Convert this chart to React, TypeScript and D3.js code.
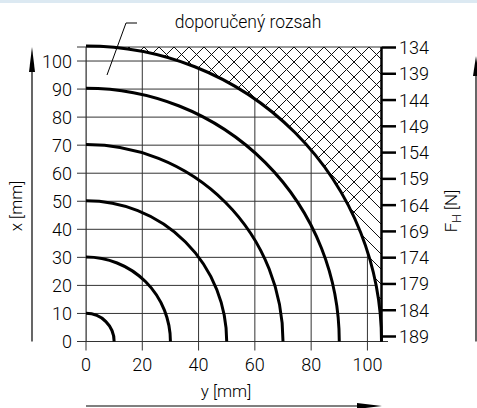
import React from "react";
import * as d3 from "d3";

const radii = [10, 30, 50, 70, 90];
const boundary = 105;
const xTicks = [0, 20, 40, 60, 80, 100];
const yTicks = [0, 10, 20, 30, 40, 50, 60, 70, 80, 90, 100];
const fhTicks = [134, 139, 144, 149, 154, 159, 164, 169, 174, 179, 184, 189];
const titleText = "doporučený rozsah";

const W = 477;
const H = 408;
const FONT = "Roboto, 'DejaVu Sans', sans-serif";

export default function App() {
  const x = d3.scaleLinear().domain([0, boundary]).range([86, 381.5]);
  const y = d3.scaleLinear().domain([0, boundary]).range([341.5, 47]);
  const fh = d3.scaleLinear().domain([134, 189]).range([47.5, 336.5]);

  const cx = x(0);
  const cy = y(0);
  const R = (r: number) => x(r) - x(0);

  const arcPath = (r: number) => {
    const p = d3.path();
    p.moveTo(cx, cy - R(r));
    p.arc(cx, cy, R(r), -Math.PI / 2, 0, false);
    return p.toString();
  };

  const gridClip = (() => {
    const p = d3.path();
    p.moveTo(cx, cy);
    p.lineTo(cx, cy - R(boundary));
    p.arc(cx, cy, R(boundary), -Math.PI / 2, 0, false);
    p.closePath();
    return p.toString();
  })();

  const hatchClip = (() => {
    const p = d3.path();
    p.moveTo(x(0), y(boundary));
    p.lineTo(x(boundary), y(boundary));
    p.lineTo(x(boundary), y(0));
    p.arc(cx, cy, R(boundary), 0, -Math.PI / 2, true);
    p.closePath();
    return p.toString();
  })();

  const hatchLines: string[] = [];
  const step = 15;
  const x0 = 144;
  const top = y(boundary);
  const span = 320;
  for (let k = -25; k <= 25; k++) {
    const xa = x0 + k * step;
    hatchLines.push(`M${xa},${top}L${xa + span},${top + span}`);
    hatchLines.push(`M${xa},${top}L${xa - span},${top + span}`);
  }

  const gridColor = "#333";
  const tickFs = 18;

  return (
    <svg
      width={W}
      height={H}
      style={{ position: "absolute", left: 0, top: 0, background: "#fff" }}
      fontFamily={FONT}
    >
      <rect x={0} y={0} width={W} height={3} fill="#dce9f2" />
      <defs>
        <clipPath id="gridClip">
          <path d={gridClip} />
        </clipPath>
        <clipPath id="hatchClip">
          <path d={hatchClip} />
        </clipPath>
      </defs>

      <g clipPath="url(#gridClip)" stroke={gridColor} strokeWidth={1}>
        {yTicks.map((t) => (
          <line key={"h" + t} x1={x(0)} x2={x(boundary)} y1={y(t)} y2={y(t)} />
        ))}
        {xTicks.map((t) => (
          <line key={"v" + t} x1={x(t)} x2={x(t)} y1={y(0)} y2={y(boundary)} />
        ))}
      </g>

      <g stroke={gridColor} strokeWidth={1}>
        {yTicks.map((t) => (
          <line key={"yt" + t} x1={77} x2={x(0)} y1={y(t)} y2={y(t)} />
        ))}
        <line x1={77} x2={x(boundary)} y1={y(boundary)} y2={y(boundary)} />
        <line x1={x(0)} x2={388} y1={y(0)} y2={y(0)} />
        {xTicks.map((t) => (
          <line key={"xt" + t} x1={x(t)} x2={x(t)} y1={y(0)} y2={y(0) + 9} />
        ))}
        <line x1={x(0)} x2={x(0)} y1={y(boundary)} y2={y(0)} />
      </g>

      <g clipPath="url(#hatchClip)" stroke="#111" strokeWidth={1}>
        {hatchLines.map((d, i) => (
          <path key={i} d={d} />
        ))}
      </g>

      <g fill="none" stroke="#000" strokeWidth={3}>
        {radii.map((r) => (
          <path key={r} d={arcPath(r)} />
        ))}
        <path d={arcPath(boundary)} />
      </g>

      <line x1={x(boundary)} x2={x(boundary)} y1={y(boundary)} y2={y(0)} stroke="#000" strokeWidth={2.5} />
      {fhTicks.map((t) => (
        <g key={"fh" + t}>
          <line x1={x(boundary)} x2={396} y1={fh(t)} y2={fh(t)} stroke="#000" strokeWidth={2.5} />
          <text x={399} y={fh(t) + 6.5} fontSize={tickFs} fontWeight={300} fill="#000">
            {t}
          </text>
        </g>
      ))}

      {yTicks.map((t) => (
        <text key={"yl" + t} x={72} y={y(t) + 6.5} fontSize={tickFs} fontWeight={300} textAnchor="end" fill="#000">
          {t}
        </text>
      ))}
      {xTicks.map((t) => (
        <text key={"xl" + t} x={x(t)} y={371} fontSize={tickFs} fontWeight={300} textAnchor="middle" fill="#000">
          {t}
        </text>
      ))}

      <line x1={32} x2={32} y1={y(0)} y2={60} stroke="#000" strokeWidth={1.2} />
      <path d={`M32,47L29,72L35,72Z`} fill="#000" />
      <text transform={`translate(22,206) rotate(-90)`} fontSize={17} fontWeight={300} textAnchor="middle" fill="#000">
        x [mm]
      </text>

      <line x1={476} x2={476} y1={y(0)} y2={70} stroke="#000" strokeWidth={1.2} />
      <path d={`M476,56L473,76L479,76Z`} fill="#000" />
      <text transform={`translate(457,211) rotate(-90)`} fontSize={17} fontWeight={300} textAnchor="middle" fill="#000">
        F<tspan fontSize={12} dy={4}>H</tspan>
        <tspan dy={-4}> [N]</tspan>
      </text>

      <line x1={86} x2={370} y1={406} y2={406} stroke="#000" strokeWidth={1.2} />
      <path d={`M382,406L357,403L357,409Z`} fill="#000" />
      <text x={226} y={397} fontSize={17} fontWeight={300} textAnchor="middle" fill="#000">
        y [mm]
      </text>

      <text x={248} y={28} fontSize={17.5} fontWeight={300} textAnchor="middle" fill="#000">
        {titleText}
      </text>
      <path d="M137,23L126,23L107,75" fill="none" stroke="#000" strokeWidth={1} />
    </svg>
  );
}
